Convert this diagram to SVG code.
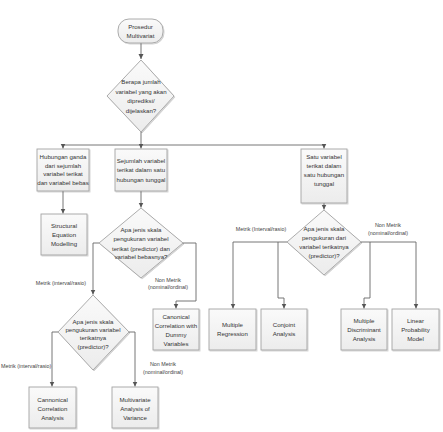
<svg xmlns="http://www.w3.org/2000/svg" width="443" height="432" viewBox="0 0 443 432">
<defs>
<linearGradient id="g" x1="0" y1="0" x2="0" y2="1">
<stop offset="0" stop-color="#fafafa"/>
<stop offset="1" stop-color="#ececec"/>
</linearGradient>
<marker id="ah" markerWidth="6" markerHeight="6" refX="5" refY="3" orient="auto" markerUnits="userSpaceOnUse">
<path d="M0,0.5 L5,3 L0,5.5 Z" fill="#555"/>
</marker>
<filter id="sh" x="-10%" y="-10%" width="130%" height="130%">
<feDropShadow dx="1" dy="1" stdDeviation="0.6" flood-color="#000" flood-opacity="0.18"/>
</filter>
</defs>
<style>
.n{fill:url(#g);stroke:#a3a3a3;stroke-width:0.9;filter:url(#sh)}
.t{font-family:"Liberation Sans",Arial,sans-serif;font-size:6.1px;fill:#333;text-anchor:middle}
.l{font-family:"Liberation Sans",Arial,sans-serif;font-size:5.4px;fill:#444;text-anchor:middle}
.c{fill:none;stroke:#666;stroke-width:0.9}
.a{marker-end:url(#ah)}
</style>
<rect width="443" height="432" fill="#fff"/>

<g id="connectors">
<path class="c a" d="M141,43 V59"/>
<path class="c" d="M141,132 V145"/>
<path class="c" d="M63,145 H324"/>
<path class="c a" d="M63,145 V148.5"/>
<path class="c a" d="M141,145 V148.5"/>
<path class="c a" d="M324,145 V148.5"/>
<path class="c a" d="M63,191 V213.5"/>
<path class="c a" d="M141,191 V207.5"/>
<path class="c a" d="M324,203 V209.5"/>
<path class="c a" d="M183,243 H196 V301 H176 V308.5"/>
<path class="c a" d="M99,243 H93 V294.5"/>
<path class="c a" d="M58,332 H52 V386.5"/>
<path class="c a" d="M129,332 H135 V386.5"/>
<path class="c a" d="M287,242 H233 V308.5"/>
<path class="c a" d="M278,242 V298 H284 V308.5"/>
<path class="c a" d="M361,242 H416 V308.5"/>
<path class="c a" d="M370,242 V298 H364 V308.5"/>
</g>

<g id="labels">
<text class="l" x="61" y="285">Metrik (interval/rasio)</text>
<text class="l" x="168" y="282">Non Metrik</text>
<text class="l" x="168" y="289">(nominal/ordinal)</text>
<text class="l" x="1" y="368" style="text-anchor:start">Metrik (interval/rasio)</text>
<text class="l" x="163" y="366">Non Metrik</text>
<text class="l" x="163" y="374">(nominal/ordinal)</text>
<text class="l" x="261" y="231">Metrik (Interval/rasio)</text>
<text class="l" x="388" y="227">Non Metrik</text>
<text class="l" x="388" y="235">(nominal/ordinal)</text>
</g>

<g id="start">
<rect class="n" x="118" y="19" width="45" height="24" rx="11"/>
<text class="t" x="140.5" y="29">Prosedur</text>
<text class="t" x="140.5" y="37.5">Multivariat</text>
</g>

<g id="d1">
<polygon class="n" points="141,60 174,96 141,132 107,96"/>
<text class="t" x="141" y="84">Berapa jumlah</text>
<text class="t" x="141" y="93.5">variabel yang akan</text>
<text class="t" x="141" y="103">diprediksi/</text>
<text class="t" x="141" y="112.5">dijelaskan?</text>
</g>

<g id="b1">
<rect class="n" x="37" y="149" width="52" height="42"/>
<text class="t" x="63" y="159">Hubungan ganda</text>
<text class="t" x="63" y="167.5">dari sejumlah</text>
<text class="t" x="63" y="176">variabel terikat</text>
<text class="t" x="63" y="184.5">dan variabel bebas</text>
</g>

<g id="b2">
<rect class="n" x="115" y="149" width="52" height="42"/>
<text class="t" x="141" y="163">Sejumlah variabel</text>
<text class="t" x="141" y="172">terikat dalam satu</text>
<text class="t" x="141" y="181.5">hubungan tunggal</text>
</g>

<g id="b3">
<rect class="n" x="301" y="149" width="46" height="54"/>
<text class="t" x="324" y="158.5">Satu variabel</text>
<text class="t" x="324" y="167.5">terikat dalam</text>
<text class="t" x="324" y="176.5">satu hubungan</text>
<text class="t" x="324" y="185.5">tunggal</text>
</g>

<g id="sem">
<rect class="n" x="41" y="214" width="46" height="41"/>
<text class="t" x="64" y="228">Structural</text>
<text class="t" x="64" y="237">Equation</text>
<text class="t" x="64" y="246">Modelling</text>
</g>

<g id="d2">
<polygon class="n" points="141,208 183,243 141,278 99,243"/>
<text class="t" x="141" y="231.5">Apa jenis skala</text>
<text class="t" x="141" y="241">pengukuran variabel</text>
<text class="t" x="141" y="250.5">terikat (predictor) dan</text>
<text class="t" x="141" y="259">variabel bebasnya?</text>
</g>

<g id="ccdv">
<rect class="n" x="153" y="309" width="46" height="41"/>
<text class="t" x="176" y="319">Canonical</text>
<text class="t" x="176" y="328">Correlation with</text>
<text class="t" x="176" y="337">Dummy</text>
<text class="t" x="176" y="346">Variables</text>
</g>

<g id="d3">
<polygon class="n" points="93,295 129,332 93,370 58,332"/>
<text class="t" x="93" y="324">Apa jenis skala</text>
<text class="t" x="93" y="332">pengukuran variabel</text>
<text class="t" x="93" y="340">terikatnya</text>
<text class="t" x="93" y="348.5">(predictor)?</text>
</g>

<g id="cca">
<rect class="n" x="29" y="387" width="47" height="41"/>
<text class="t" x="52.5" y="401.5">Cannonical</text>
<text class="t" x="52.5" y="410.5">Correlation</text>
<text class="t" x="52.5" y="419.5">Analysis</text>
</g>

<g id="manova">
<rect class="n" x="112" y="387" width="46" height="41"/>
<text class="t" x="135" y="401.5">Multivariate</text>
<text class="t" x="135" y="410.5">Analysis of</text>
<text class="t" x="135" y="419.5">Variance</text>
</g>

<g id="d4">
<polygon class="n" points="324,210 361,242 324,275 287,242"/>
<text class="t" x="324" y="231">Apa jenis skala</text>
<text class="t" x="324" y="240">pengukuran dari</text>
<text class="t" x="324" y="249">variabel terikatnya</text>
<text class="t" x="324" y="258">(predictor)?</text>
</g>

<g id="mr">
<rect class="n" x="209" y="309" width="47" height="41"/>
<text class="t" x="232.5" y="327">Multiple</text>
<text class="t" x="232.5" y="336">Regression</text>
</g>

<g id="conjoint">
<rect class="n" x="261" y="309" width="46" height="41"/>
<text class="t" x="284" y="327">Conjoint</text>
<text class="t" x="284" y="336">Analysis</text>
</g>

<g id="mda">
<rect class="n" x="341" y="309" width="46" height="41"/>
<text class="t" x="364" y="322.5">Multiple</text>
<text class="t" x="364" y="331.5">Discriminant</text>
<text class="t" x="364" y="340.5">Analysis</text>
</g>

<g id="lpm">
<rect class="n" x="392" y="309" width="47" height="41"/>
<text class="t" x="415.5" y="322.5">Linear</text>
<text class="t" x="415.5" y="331.5">Probability</text>
<text class="t" x="415.5" y="340.5">Model</text>
</g>
</svg>
